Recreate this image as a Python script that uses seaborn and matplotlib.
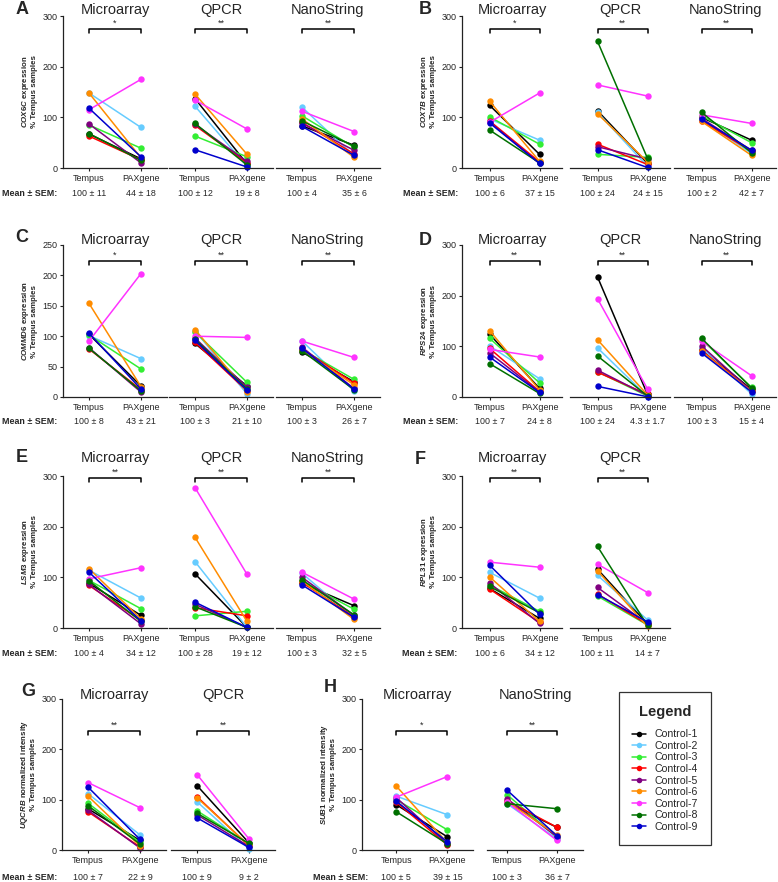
import numpy as np
import pandas as pd
import matplotlib
matplotlib.use('Agg')
import matplotlib.pyplot as plt
import matplotlib.transforms as mtrans
from matplotlib.lines import Line2D
import seaborn as sns

controls = ['Control-1', 'Control-2', 'Control-3', 'Control-4', 'Control-5',
            'Control-6', 'Control-7', 'Control-8', 'Control-9']
colors = ['#000000', '#66ccff', '#33ee33', '#ff0000', '#800080',
          '#ff8c00', '#ff33ff', '#007000', '#0000cc']
samples = ['Tempus', 'PAXgene']

# values in control order 1..9, Tempus (_t) and PAXgene (_p)
a_micro_t = [67, 148, 85, 63, 87, 148, 115, 68, 118]
a_micro_p = [18, 80, 39, 16, 10, 20, 175, 15, 22]
a_qpcr_t = [137, 122, 63, 84, 86, 146, 134, 88, 36]
a_qpcr_p = [8, 3, 22, 10, 13, 27, 77, 6, 2]
a_nano_t = [83, 120, 103, 90, 88, 97, 112, 93, 82]
a_nano_p = [45, 24, 41, 28, 35, 21, 72, 43, 25]

b_micro_t = [124, 97, 101, 93, 91, 132, 90, 75, 89]
b_micro_p = [27, 55, 47, 12, 9, 13, 148, 10, 9]
b_qpcr_t = [113, 110, 27, 47, 42, 107, 164, 250, 36]
b_qpcr_p = [9, 3, 21, 7, 18, 12, 142, 19, 1]
b_nano_t = [100, 95, 103, 93, 98, 92, 105, 110, 96]
b_nano_p = [55, 29, 50, 33, 35, 25, 88, 30, 35]

c_micro_t = [103, 101, 102, 79, 81, 154, 92, 80, 105]
c_micro_p = [18, 63, 46, 12, 8, 17, 203, 10, 13]
c_qpcr_t = [88, 109, 107, 90, 97, 111, 100, 95, 93]
c_qpcr_p = [18, 5, 24, 10, 16, 8, 98, 13, 11]
c_nano_t = [74, 92, 78, 79, 82, 77, 92, 76, 80]
c_nano_p = [25, 10, 29, 23, 14, 20, 65, 12, 13]

d_micro_t = [124, 101, 116, 96, 87, 131, 94, 66, 79]
d_micro_p = [17, 36, 28, 11, 10, 14, 79, 7, 9]
d_qpcr_t = [237, 97, 50, 49, 53, 113, 194, 81, 21]
d_qpcr_p = [5, 1, 2, 5, 3, 4, 16, 2, 0.5]
d_nano_t = [95, 97, 114, 92, 101, 90, 110, 116, 87]
d_nano_p = [15, 6, 19, 12, 12, 11, 42, 18, 10]

e_micro_t = [88, 114, 94, 84, 86, 117, 97, 93, 110]
e_micro_p = [25, 59, 38, 15, 8, 18, 119, 13, 14]
e_qpcr_t = [107, 131, 24, 40, 47, 179, 277, 42, 51]
e_qpcr_p = [1, 1, 33, 24, 1, 13, 106, 1, 1]
e_nano_t = [88, 108, 92, 90, 100, 93, 110, 95, 85]
e_nano_p = [44, 20, 37, 22, 25, 17, 57, 26, 21]

f_micro_t = [78, 110, 85, 77, 89, 101, 130, 82, 124]
f_micro_p = [19, 59, 33, 11, 9, 13, 120, 30, 27]
f_qpcr_t = [116, 104, 63, 67, 80, 113, 126, 161, 66]
f_qpcr_p = [8, 16, 6, 7, 8, 3, 70, 5, 12]

g_micro_t = [82, 112, 93, 76, 79, 107, 134, 88, 125]
g_micro_p = [19, 30, 15, 6, 4, 8, 84, 12, 21]
g_qpcr_t = [128, 96, 78, 106, 70, 104, 150, 73, 64]
g_qpcr_p = [14, 2, 12, 8, 7, 9, 22, 13, 5]

h_micro_t = [90, 107, 100, 95, 104, 127, 105, 76, 97]
h_micro_p = [26, 70, 40, 10, 12, 14, 146, 12, 16]
h_nano_t = [93, 92, 110, 98, 102, 96, 95, 92, 119]
h_nano_p = [45, 22, 25, 45, 26, 30, 19, 82, 28]

sns.set_style('ticks')
plt.rcParams['font.family'] = ['Liberation Sans', 'DejaVu Sans']
plt.rcParams['mathtext.fontset'] = 'custom'
plt.rcParams['mathtext.it'] = 'Liberation Sans:italic:bold'
plt.rcParams['mathtext.rm'] = 'Liberation Sans:bold'

W, H = 778, 882
fig = plt.figure(figsize=(W / 100, H / 100), dpi=100)

# row geometry in pixels
rows = {
    1: dict(top=16, bot=168, title=10, brk=13, mean=193),
    2: dict(top=245, bot=397, title=240, brk=16, mean=421),
    3: dict(top=476, bot=628, title=458, brk=2, mean=653),
    4: dict(top=699, bot=850, title=695, brk=32, mean=877),
}

# letter, gene label, ymax, ystep, row, letter xy, mean label x, subplots
# subplot: title, tempus, pax, stars, mean tempus, mean pax, left, width, xlim
panels = [
    ('A', r'$\mathit{COX6C}$ expression', 300, 100, 1, (22, 10), 2, [
        ('Microarray', a_micro_t, a_micro_p, '*', '100 ± 11', '44 ± 18', 63, 104, (-0.5, 1.5)),
        ('QPCR', a_qpcr_t, a_qpcr_p, '**', '100 ± 12', '19 ± 8', 169, 104, (-0.5, 1.5)),
        ('NanoString', a_nano_t, a_nano_p, '**', '100 ± 4', '35 ± 6', 276, 104, (-0.5, 1.5))]),
    ('B', r'$\mathit{COX7B}$ expression', 300, 100, 1, (425, 10), 403, [
        ('Microarray', b_micro_t, b_micro_p, '*', '100 ± 6', '37 ± 15', 462, 100, (-0.55, 1.45)),
        ('QPCR', b_qpcr_t, b_qpcr_p, '**', '100 ± 24', '24 ± 15', 570, 100, (-0.55, 1.45)),
        ('NanoString', b_nano_t, b_nano_p, '**', '100 ± 2', '42 ± 7', 674, 102, (-0.55, 1.49))]),
    ('C', r'$\mathit{COMMD6}$ expression', 250, 50, 2, (22, 238), 2, [
        ('Microarray', c_micro_t, c_micro_p, '*', '100 ± 8', '43 ± 21', 63, 104, (-0.5, 1.5)),
        ('QPCR', c_qpcr_t, c_qpcr_p, '**', '100 ± 3', '21 ± 10', 169, 104, (-0.5, 1.5)),
        ('NanoString', c_nano_t, c_nano_p, '**', '100 ± 3', '26 ± 7', 276, 104, (-0.5, 1.5))]),
    ('D', r'$\mathit{RPS24}$ expression', 300, 100, 2, (425, 240), 403, [
        ('Microarray', d_micro_t, d_micro_p, '**', '100 ± 7', '24 ± 8', 462, 100, (-0.55, 1.45)),
        ('QPCR', d_qpcr_t, d_qpcr_p, '**', '100 ± 24', '4.3 ± 1.7', 570, 100, (-0.55, 1.45)),
        ('NanoString', d_nano_t, d_nano_p, '**', '100 ± 3', '15 ± 4', 674, 102, (-0.55, 1.49))]),
    ('E', r'$\mathit{LSM3}$ expression', 300, 100, 3, (22, 458), 2, [
        ('Microarray', e_micro_t, e_micro_p, '**', '100 ± 4', '34 ± 12', 63, 104, (-0.5, 1.5)),
        ('QPCR', e_qpcr_t, e_qpcr_p, '**', '100 ± 28', '19 ± 12', 169, 104, (-0.5, 1.5)),
        ('NanoString', e_nano_t, e_nano_p, '**', '100 ± 3', '32 ± 5', 276, 104, (-0.5, 1.5))]),
    ('F', r'$\mathit{RPL31}$ expression', 300, 100, 3, (420, 460), 402, [
        ('Microarray', f_micro_t, f_micro_p, '**', '100 ± 6', '34 ± 12', 462, 100, (-0.55, 1.45)),
        ('QPCR', f_qpcr_t, f_qpcr_p, '**', '100 ± 11', '14 ± 7', 570, 100, (-0.55, 1.45))]),
    ('G', r'$\mathit{UQCRB}$ normalized intensity', 300, 100, 4, (28, 692), 2, [
        ('Microarray', g_micro_t, g_micro_p, '**', '100 ± 7', '22 ± 9', 62, 104, (-0.5, 1.5)),
        ('QPCR', g_qpcr_t, g_qpcr_p, '**', '100 ± 9', '9 ± 2', 171, 104, (-0.5, 1.5))]),
    ('H', r'$\mathit{SUB1}$ normalized intensity', 300, 100, 4, (330, 687), 313, [
        ('Microarray', h_micro_t, h_micro_p, '*', '100 ± 5', '39 ± 15', 362, 111, (-0.67, 1.5)),
        ('NanoString', h_nano_t, h_nano_p, '**', '100 ± 3', '36 ± 7', 487, 96, (-0.4, 1.52))]),
]

fs_tick = 6.5
for letter, ylab, ymax, ystep, row, lxy, mean_x, subs in panels:
    r = rows[row]
    height = r['bot'] - r['top']
    fig.text(lxy[0] / W, 1 - lxy[1] / H, letter, fontsize=13, fontweight='bold',
             ha='center', va='center')
    fig.text(mean_x / W, 1 - r['mean'] / H, 'Mean ± SEM:', fontsize=6.4,
             fontweight='bold', ha='left', va='center')
    for i, (title, tv, pv, stars, mt, mp, left, width, xlim) in enumerate(subs):
        ax = fig.add_axes([left / W, 1 - r['bot'] / H, width / W, height / H])
        df = pd.DataFrame({'control': controls * 2,
                           'x': [0] * 9 + [1] * 9,
                           'value': tv + pv})
        sns.lineplot(data=df, x='x', y='value', hue='control', hue_order=controls,
                     palette=colors, marker='o', markersize=4.6, markeredgewidth=0,
                     linewidth=1.1, estimator=None, sort=False, legend=False, ax=ax)
        for ln in ax.lines:
            ln.set_clip_on(False)
        ax.set_xlim(*xlim)
        ax.set_ylim(0, ymax)
        ax.set_xticks([0, 1])
        ax.set_xticklabels(samples, fontsize=fs_tick)
        ax.set_xlabel('')
        ax.tick_params(axis='x', length=2.5, width=0.8, pad=2, color='#222222')
        sns.despine(ax=ax)
        ax.spines['bottom'].set_linewidth(0.9)
        ax.spines['bottom'].set_color('#222222')
        if i == 0:
            ax.set_yticks(np.arange(0, ymax + 1, ystep))
            ax.tick_params(axis='y', labelsize=fs_tick, length=2.5, width=0.8, pad=1.5,
                           color='#222222')
            ax.spines['left'].set_linewidth(0.9)
            ax.spines['left'].set_color('#222222')
            ax.set_ylabel(ylab + '\n% Tempus samples', fontsize=5.7, fontweight='bold',
                          labelpad=3, linespacing=1.1)
        else:
            ax.spines['left'].set_visible(False)
            ax.set_yticks([])
            ax.set_ylabel('')
        ax.text(0.5, 1 + (r['top'] - r['title']) / height, title, transform=ax.transAxes,
                ha='center', va='center', fontsize=10.5)
        # significance bracket
        trans = mtrans.blended_transform_factory(ax.transData, ax.transAxes)
        yb = 1 - r['brk'] / height
        tk = 4 / height
        ax.plot([0, 0, 1, 1], [yb - tk, yb, yb, yb - tk], transform=trans,
                color='black', lw=1.1, clip_on=False)
        ax.text(0.5, yb + 1.5 / height, stars, transform=trans, ha='center',
                va='bottom', fontsize=6.5)
        # mean +- SEM
        mtrans_fig = mtrans.blended_transform_factory(ax.transData, fig.transFigure)
        ax.text(0, 1 - r['mean'] / H, mt, transform=mtrans_fig, ha='center',
                va='center', fontsize=6.4)
        ax.text(1, 1 - r['mean'] / H, mp, transform=mtrans_fig, ha='center',
                va='center', fontsize=6.4)

handles = [Line2D([0], [0], color=c, marker='o', markersize=4, lw=1.1,
                  markeredgewidth=0) for c in colors]
leg = fig.legend(handles, controls, title='Legend', loc='upper left',
                 bbox_to_anchor=(614 / W, 1 - 687 / H), frameon=True, fancybox=False,
                 edgecolor='black', fontsize=7.6, handlelength=1.3, handletextpad=0.8,
                 labelspacing=0.15, borderpad=1.25,
                 title_fontproperties={'weight': 'bold', 'size': 10.5})
leg.get_frame().set_linewidth(0.9)
leg._legend_box.sep = 7

fig.savefig('out.png', dpi=100)
